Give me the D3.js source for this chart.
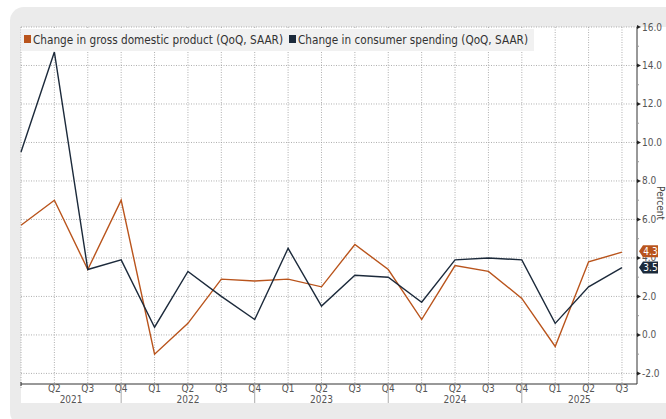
<!DOCTYPE html>
<html>
<head>
<meta charset="utf-8">
<script src="https://cdn.jsdelivr.net/npm/d3@7"></script>
<style>
  html, body { margin: 0; padding: 0; background: #fff; }
  svg { display: block; font-family: "Liberation Sans Narrow", "DejaVu Sans Condensed", sans-serif; }
</style>
</head>
<body>
<script>
// quarters from Q1 2021 to Q3 2025
const quarters = ["Q1","Q2","Q3","Q4","Q1","Q2","Q3","Q4","Q1","Q2","Q3","Q4","Q1","Q2","Q3","Q4","Q1","Q2","Q3"];
const years = ["2021", "2022", "2023", "2024", "2025"];
const gdp = [5.7, 7.0, 3.4, 7.0, -1.0, 0.6, 2.9, 2.8, 2.9, 2.5, 4.7, 3.4, 0.8, 3.6, 3.3, 1.9, -0.6, 3.8, 4.3];
const spending = [9.5, 14.7, 3.4, 3.9, 0.4, 3.3, 2.0, 0.8, 4.5, 1.5, 3.1, 3.0, 1.7, 3.9, 4.0, 3.9, 0.6, 2.5, 3.5];
const yTicks = [-2, 0, 2, 4, 6, 8, 10, 12, 14, 16];
const seriesNames = ["Change in gross domestic product (QoQ, SAAR)", "Change in consumer spending (QoQ, SAAR)"];
const seriesColors = ["#b9541c", "#1c2a3b"];

const W = 666, H = 419;
const plotL = 21, plotR = 637, plotT = 27, plotB = 384;

const svg = d3.select("body").append("svg")
    .attr("width", W)
    .attr("height", H);

// card background
svg.append("rect")
    .attr("x", 10).attr("y", 7)
    .attr("width", W + 20).attr("height", H)
    .attr("rx", 14)
    .attr("fill", "#ebebeb");
svg.append("rect")
    .attr("x", plotL).attr("y", plotT)
    .attr("width", W - plotL).attr("height", 403 - plotT)
    .attr("fill", "#fff");

// scales
const x = d3.scaleLinear().domain([0, 18.45]).range([plotL, plotR]);
const y = d3.scaleLinear().domain([-2.55, 16]).range([plotB, plotT]);

// grid
const grid = svg.append("g").attr("stroke", "#9a9a9a").attr("stroke-width", 0.8).attr("stroke-dasharray", "1,1.5");
grid.selectAll(".hg").data(yTicks).enter().append("line")
    .attr("x1", plotL).attr("x2", plotR)
    .attr("y1", d => y(d)).attr("y2", d => y(d));
grid.selectAll(".vg").data(quarters).enter().append("line")
    .attr("x1", (d, i) => x(i)).attr("x2", (d, i) => x(i))
    .attr("y1", plotT).attr("y2", d => plotB + 5);

// legend
const legend = svg.append("g");
legend.append("rect")
    .attr("x", plotL).attr("y", 29)
    .attr("width", 513).attr("height", 22)
    .attr("fill", "#f1f1f1");
const legendX = [24, 289];
const legendW = [250, 230];
seriesNames.forEach((name, i) => {
    legend.append("rect")
        .attr("x", legendX[i]).attr("y", 35)
        .attr("width", 7).attr("height", 8)
        .attr("fill", seriesColors[i]);
    legend.append("text")
        .attr("x", legendX[i] + 9).attr("y", 44)
        .attr("font-size", 13)
        .attr("fill", "#333")
        .attr("textLength", legendW[i])
        .attr("lengthAdjust", "spacingAndGlyphs")
        .text(name);
});

// lines
const line = d3.line().x((d, i) => x(i)).y(d => y(d));
[gdp, spending].forEach((s, i) => {
    svg.append("path")
        .datum(s)
        .attr("fill", "none")
        .attr("stroke", seriesColors[i])
        .attr("stroke-width", 1.4)
        .attr("d", line);
});

// right axis
const yAxis = svg.append("g");
yAxis.append("line")
    .attr("x1", plotR).attr("x2", plotR)
    .attr("y1", plotT).attr("y2", plotB)
    .attr("stroke", "#333");
yAxis.selectAll(".mt").data(yTicks.slice(0, -1)).enter().append("line")
    .attr("x1", plotR).attr("x2", plotR + 2)
    .attr("y1", d => y(d + 1)).attr("y2", d => y(d + 1))
    .attr("stroke", "#999");
yAxis.selectAll(".tk").data(yTicks).enter().append("path")
    .attr("d", d => `M${plotR},${y(d) - 2}L${plotR + 4},${y(d)}L${plotR},${y(d) + 2}Z`)
    .attr("fill", "#222");
yAxis.selectAll(".tl").data(yTicks).enter().append("text")
    .attr("x", plotR + 5).attr("y", d => y(d) + 3.5)
    .attr("font-size", 10)
    .attr("fill", "#555")
    .text(d => d.toFixed(1));
svg.append("text")
    .attr("transform", "translate(657,203) rotate(90)")
    .attr("text-anchor", "middle")
    .attr("font-size", 10)
    .attr("fill", "#444")
    .text("Percent");

// end value tags
[gdp, spending].forEach((s, i) => {
    const v = s[s.length - 1];
    const cy = y(v) + (i === 0 ? -1 : 0);
    svg.append("path")
        .attr("d", `M${plotR + 2},${cy}L${plotR + 6},${cy - 6}H${plotR + 21}V${cy + 6}H${plotR + 6}Z`)
        .attr("fill", seriesColors[i]);
    svg.append("text")
        .attr("x", plotR + 13.5).attr("y", cy + 3.5)
        .attr("text-anchor", "middle")
        .attr("font-size", 10)
        .attr("fill", "#fff")
        .text(v.toFixed(1));
});

// bottom axis
const xAxis = svg.append("g");
xAxis.append("line")
    .attr("x1", plotL).attr("x2", plotR)
    .attr("y1", plotB).attr("y2", plotB)
    .attr("stroke", "#333");
xAxis.append("line")
    .attr("x1", plotL).attr("x2", plotL)
    .attr("y1", plotB - 2).attr("y2", plotB + 2)
    .attr("stroke", "#333");
xAxis.selectAll(".ql").data(quarters.slice(1)).enter().append("text")
    .attr("x", (d, i) => x(i + 1)).attr("y", 392)
    .attr("text-anchor", "middle")
    .attr("font-size", 10)
    .attr("fill", "#555")
    .text(d => d);
// year separators at Q4 positions
const q4 = quarters.map((q, i) => q === "Q4" ? i : -1).filter(i => i >= 0);
xAxis.selectAll(".ys").data(q4).enter().append("line")
    .attr("x1", d => x(d)).attr("x2", d => x(d))
    .attr("y1", plotB).attr("y2", 403)
    .attr("stroke", "#aaa");
const bounds = [plotL, ...q4.map(i => x(i)), plotR];
xAxis.selectAll(".yl").data(years).enter().append("text")
    .attr("x", (d, i) => (bounds[i] + bounds[i + 1]) / 2)
    .attr("y", 403)
    .attr("text-anchor", "middle")
    .attr("font-size", 10)
    .attr("fill", "#555")
    .text(d => d);
</script>
</body>
</html>
